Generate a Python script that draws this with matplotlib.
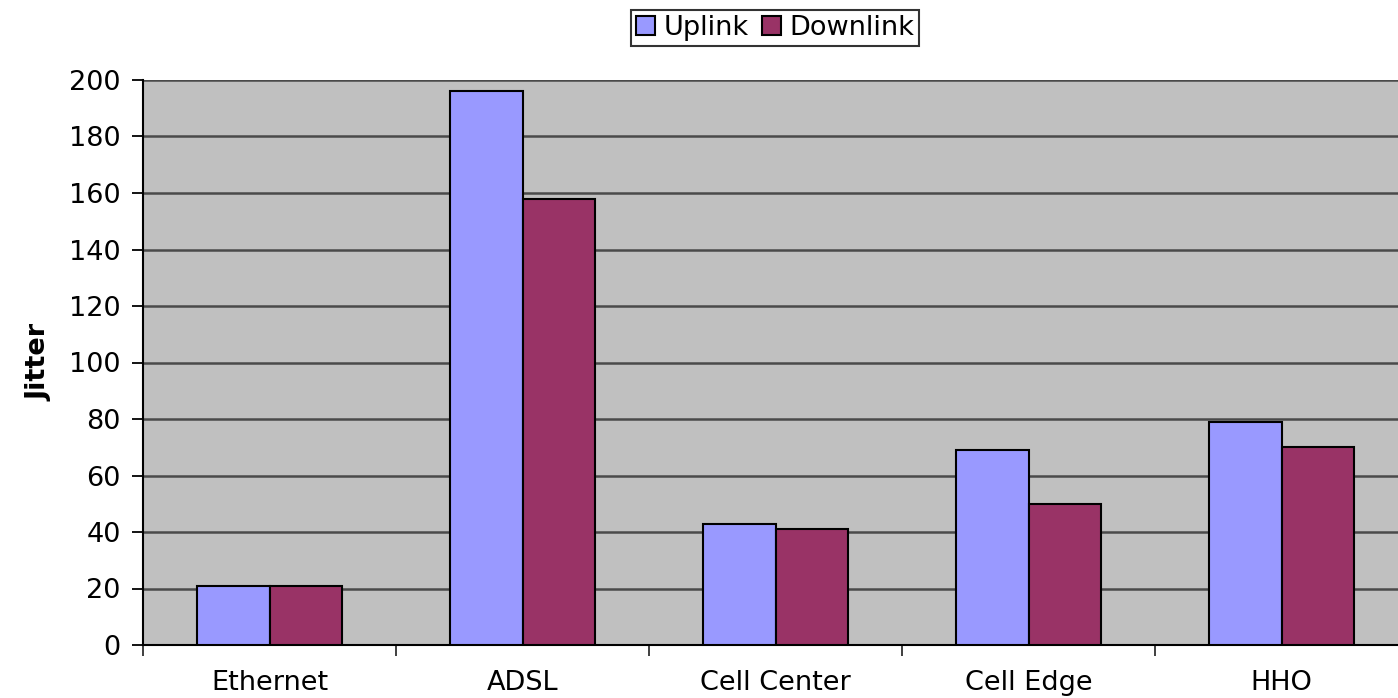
import matplotlib
matplotlib.use("Agg")
import matplotlib.pyplot as plt
import numpy as np

categories = ["Ethernet", "ADSL", "Cell Center", "Cell Edge", "HHO"]
uplink = [21, 196, 43, 69, 79]
downlink = [21, 158, 41, 50, 70]
y_ticks = [0, 20, 40, 60, 80, 100, 120, 140, 160, 180, 200]

plt.rcParams["font.family"] = ["DejaVu Sans"]
FS = 19.5

fig = plt.figure(figsize=(13.98, 6.98), dpi=100)
ax = fig.add_axes([143 / 1398, 53 / 698, 1265 / 1398, 565 / 698])
ax.set_facecolor("#C0C0C0")

x = np.arange(len(categories))
w = 0.285
ax.bar(x - w / 2, uplink, w, color="#9999FF", edgecolor="black", linewidth=1.5,
       label="Uplink", zorder=3)
ax.bar(x + w / 2, downlink, w, color="#993366", edgecolor="black", linewidth=1.5,
       label="Downlink", zorder=3)

ax.set_xlim(-0.5, len(categories) - 0.5)
ax.set_ylim(0, 200)
ax.set_yticks(y_ticks)
ax.yaxis.grid(True, color="#4a4a4a", linewidth=1.8, zorder=1)
ax.set_axisbelow(True)

# category labels centred, tick marks at the category boundaries
ax.set_xticks(x)
ax.set_xticklabels(categories, fontsize=FS)
ax.tick_params(axis="x", length=0, pad=18)
ax.set_xticks(np.arange(-0.5, len(categories) + 0.5, 1), minor=True)
ax.tick_params(axis="x", which="minor", length=8, width=1.3, color="#303030")
ax.tick_params(axis="y", length=8, width=1.3, labelsize=FS, pad=8)

for s in ["top", "right"]:
    ax.spines[s].set_visible(False)
ax.spines["left"].set_linewidth(1.5)
ax.spines["bottom"].set_linewidth(1.5)

ax.set_ylabel("Jitter", fontsize=FS, fontweight="bold", labelpad=12)

leg = fig.legend(loc="center", bbox_to_anchor=(775 / 1398, 1 - 28 / 698), ncol=2,
                 fontsize=FS, frameon=True, fancybox=False, edgecolor="black",
                 handlelength=0.7, handleheight=0.7, handletextpad=0.3,
                 columnspacing=0.5, borderpad=0.2, borderaxespad=0)
leg.get_frame().set_linewidth(1.5)

fig.savefig("out.png", dpi=100)
